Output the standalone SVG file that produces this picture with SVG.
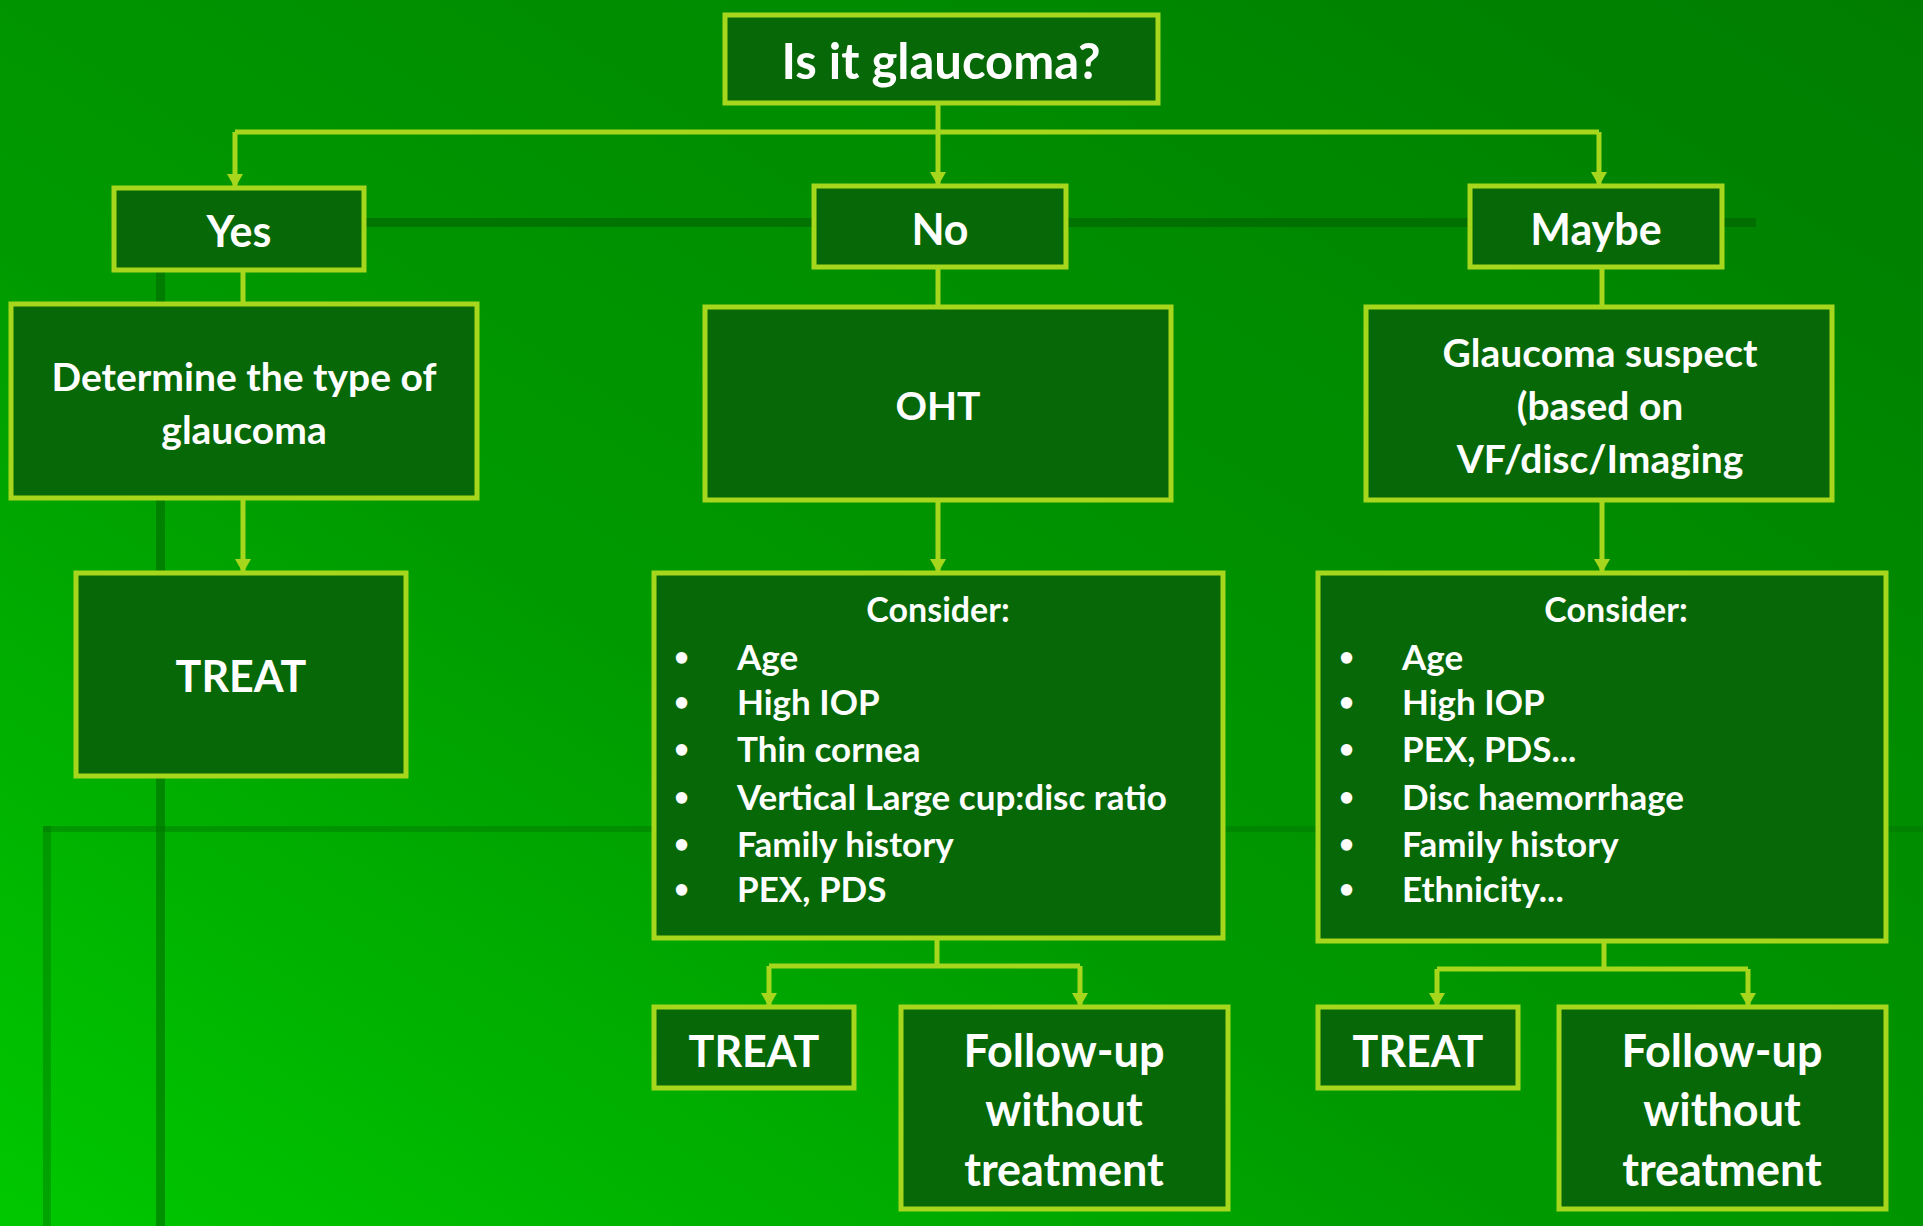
<svg xmlns="http://www.w3.org/2000/svg" width="1923" height="1226" viewBox="0 0 1923 1226">
<defs>
<linearGradient id="bg" x1="1" y1="0" x2="0" y2="1">
<stop offset="0" stop-color="#007d00"/><stop offset="0.6" stop-color="#009a00"/><stop offset="1" stop-color="#00c800"/>
</linearGradient>
<marker id="ah" viewBox="0 0 14 16" refX="12" refY="8" markerWidth="14" markerHeight="16" orient="auto" markerUnits="userSpaceOnUse">
<path d="M0,0 L14,8 L0,16 z" fill="#a6d71c"/>
</marker>
<style>
.b{fill:#066806;stroke:#a6d71c;stroke-width:5}
.t{fill:#fff;font-family:"Lato","Open Sans",sans-serif;font-weight:bold;text-anchor:middle;dominant-baseline:central}
.l{fill:#fff;font-family:"Lato","Open Sans",sans-serif;font-weight:bold;font-size:35px;dominant-baseline:central}
.bu{font-size:26px}
.c{fill:none;stroke:#a6d71c;stroke-width:5}
</style>
</defs>
<rect width="1923" height="1226" fill="url(#bg)"/>
<rect x="364" y="218" width="1392" height="9" fill="#006000" opacity="0.6"/>
<rect x="156" y="270" width="9" height="956" fill="#006000" opacity="0.5"/>
<rect x="43" y="826" width="1880" height="6" fill="#007000" opacity="0.4"/>
<rect x="43" y="826" width="8" height="400" fill="#007000" opacity="0.4"/>
<g id="connectors">
<path class="c" d="M938,103 V132"/>
<path class="c" d="M235,132 H1599" />
<path class="c" d="M235,132 V186" marker-end="url(#ah)"/>
<path class="c" d="M938,132 V184" marker-end="url(#ah)"/>
<path class="c" d="M1599,132 V184" marker-end="url(#ah)"/>
<path class="c" d="M243,270 V304"/>
<path class="c" d="M243,498 V571" marker-end="url(#ah)"/>
<path class="c" d="M938,267 V307"/>
<path class="c" d="M938,500 V571" marker-end="url(#ah)"/>
<path class="c" d="M1602,267 V307"/>
<path class="c" d="M1602,500 V571" marker-end="url(#ah)"/>
<path class="c" d="M937,938 V966 M769,966 H1080"/>
<path class="c" d="M769,966 V1005" marker-end="url(#ah)"/>
<path class="c" d="M1080,966 V1005" marker-end="url(#ah)"/>
<path class="c" d="M1604,941 V969 M1437,969 H1748"/>
<path class="c" d="M1437,969 V1005" marker-end="url(#ah)"/>
<path class="c" d="M1748,969 V1005" marker-end="url(#ah)"/>
</g>
<g id="title"><rect class="b" x="725" y="15" width="433" height="88"/><text class="t" x="941" y="60" font-size="49">Is it glaucoma?</text></g>
<g id="yes"><rect class="b" x="114" y="188" width="250" height="82"/><text class="t" x="239" y="230" font-size="43">Yes</text></g>
<g id="no"><rect class="b" x="814" y="186" width="252" height="81"/><text class="t" x="940" y="228" font-size="43">No</text></g>
<g id="maybe"><rect class="b" x="1470" y="186" width="252" height="81"/><text class="t" x="1596" y="228" font-size="43">Maybe</text></g>
<g id="determine"><rect class="b" x="11" y="304" width="466" height="194"/><text class="t" x="244" y="376" font-size="39">Determine the type of</text><text class="t" x="244" y="429" font-size="39">glaucoma</text></g>
<g id="oht"><rect class="b" x="705" y="307" width="466" height="193"/><text class="t" x="938" y="405" font-size="39">OHT</text></g>
<g id="suspect"><rect class="b" x="1366" y="307" width="466" height="193"/><text class="t" x="1600" y="352" font-size="39">Glaucoma suspect</text><text class="t" x="1600" y="405" font-size="39">(based on</text><text class="t" x="1600" y="458" font-size="39">VF/disc/Imaging</text></g>
<g id="treat1"><rect class="b" x="76" y="573" width="330" height="203"/><text class="t" x="241" y="675" font-size="43">TREAT</text></g>
<g id="consider1"><rect class="b" x="654" y="573" width="569" height="365"/>
<text class="t" x="938" y="608" font-size="34">Consider:</text>
<g class="l"><text class="bu" x="674" y="656">•</text><text x="737" y="656">Age</text>
<text class="bu" x="674" y="701">•</text><text x="737" y="701">High IOP</text>
<text class="bu" x="674" y="748">•</text><text x="737" y="748">Thin cornea</text>
<text class="bu" x="674" y="796">•</text><text x="737" y="796">Vertical Large cup:disc ratio</text>
<text class="bu" x="674" y="843">•</text><text x="737" y="843">Family history</text>
<text class="bu" x="674" y="888">•</text><text x="737" y="888">PEX, PDS</text></g></g>
<g id="consider2"><rect class="b" x="1318" y="573" width="568" height="368"/>
<text class="t" x="1616" y="608" font-size="34">Consider:</text>
<g class="l"><text class="bu" x="1339" y="656">•</text><text x="1402" y="656">Age</text>
<text class="bu" x="1339" y="701">•</text><text x="1402" y="701">High IOP</text>
<text class="bu" x="1339" y="748">•</text><text x="1402" y="748">PEX, PDS...</text>
<text class="bu" x="1339" y="796">•</text><text x="1402" y="796">Disc haemorrhage</text>
<text class="bu" x="1339" y="843">•</text><text x="1402" y="843">Family history</text>
<text class="bu" x="1339" y="888">•</text><text x="1402" y="888">Ethnicity...</text></g></g>
<g id="treat2"><rect class="b" x="654" y="1007" width="200" height="81"/><text class="t" x="754" y="1050" font-size="43">TREAT</text></g>
<g id="follow1"><rect class="b" x="901" y="1007" width="327" height="202"/><text class="t" x="1064" y="1050" font-size="45">Follow-up</text><text class="t" x="1064" y="1109" font-size="45">without</text><text class="t" x="1064" y="1169" font-size="45">treatment</text></g>
<g id="treat3"><rect class="b" x="1318" y="1007" width="200" height="81"/><text class="t" x="1418" y="1050" font-size="43">TREAT</text></g>
<g id="follow2"><rect class="b" x="1559" y="1007" width="327" height="202"/><text class="t" x="1722" y="1050" font-size="45">Follow-up</text><text class="t" x="1722" y="1109" font-size="45">without</text><text class="t" x="1722" y="1169" font-size="45">treatment</text></g>
</svg>
